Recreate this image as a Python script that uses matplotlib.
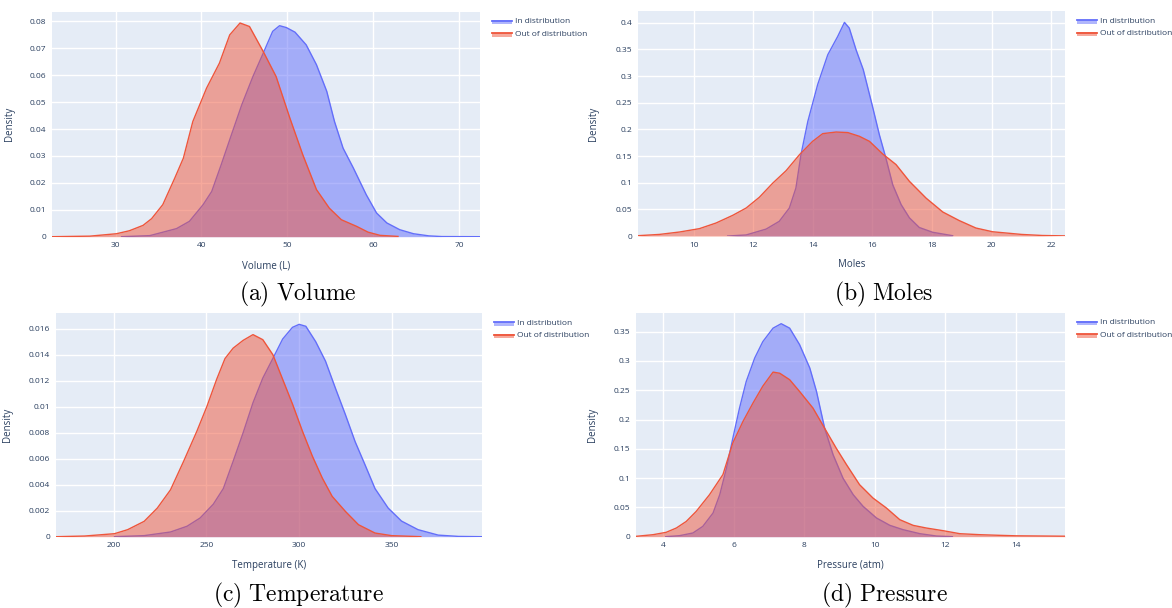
import matplotlib
matplotlib.use("Agg")
import matplotlib.pyplot as plt
from matplotlib.patches import Rectangle
from matplotlib.lines import Line2D
from matplotlib.ticker import FuncFormatter

plt.rcParams['font.family'] = ['Open Sans', 'DejaVu Sans']
plt.rcParams['mathtext.fontset'] = 'cm'

# ---------------- data ----------------
series_names = ["In distribution", "Out of distribution"]

# (a) Volume
vol_id_x = [30.7, 34.0, 37.1, 38.6, 40.2, 41.2, 42.3, 43.5, 44.7, 46.0, 47.2, 48.3, 49.1, 49.9,
            50.9, 52.2, 53.4, 54.6, 55.5, 56.5, 57.7, 59.2, 60.4, 61.6, 63.1, 64.7, 66.5, 68.0, 72.4]
vol_id_y = [0.0, 0.0004, 0.003, 0.0057, 0.0119, 0.0168, 0.0267, 0.0379, 0.049, 0.0595, 0.0682,
            0.0763, 0.0784, 0.0777, 0.076, 0.0713, 0.0639, 0.054, 0.0428, 0.0329, 0.0255, 0.0156,
            0.0088, 0.0051, 0.0026, 0.0011, 0.0003, 0.00005, 0.0]
vol_ood_x = [22.6, 27.0, 30.1, 31.6, 33.2, 34.2, 35.5, 36.9, 37.9, 39.0, 40.6, 42.1, 43.3, 44.5,
             45.6, 47.2, 48.7, 50.3, 51.8, 53.4, 54.9, 56.3, 58.1, 59.4, 60.8, 62.9]
vol_ood_y = [0.0, 0.0002, 0.0011, 0.0022, 0.0042, 0.0067, 0.0119, 0.0218, 0.0292, 0.0428, 0.0552,
             0.0645, 0.075, 0.0794, 0.0781, 0.0688, 0.0595, 0.0441, 0.0305, 0.0175, 0.0106,
             0.0063, 0.0038, 0.0017, 0.0005, 0.0001]

# (b) Moles
mol_id_x = [11.14, 11.76, 12.43, 12.87, 13.21, 13.43, 13.6, 13.83, 14.16, 14.5, 14.83, 15.06,
            15.22, 15.45, 15.69, 16.0, 16.23, 16.45, 16.68, 16.96, 17.24, 17.57, 18.02, 18.69]
mol_id_y = [0.0, 0.002, 0.013, 0.0275, 0.0525, 0.09, 0.1525, 0.215, 0.284, 0.34, 0.374, 0.4006,
            0.39, 0.349, 0.312, 0.243, 0.19, 0.146, 0.096, 0.059, 0.034, 0.016, 0.007, 0.0006]
mol_ood_x = [8.12, 8.85, 9.52, 10.19, 10.75, 11.31, 11.76, 12.2, 12.65, 13.1, 13.55, 13.99,
             14.33, 14.78, 15.17, 15.56, 15.9, 16.34, 16.79, 17.24, 17.8, 18.36, 18.91, 19.47,
             20.03, 21.0, 21.7, 22.46]
mol_ood_y = [0.0006, 0.003, 0.0075, 0.0138, 0.0244, 0.0388, 0.0525, 0.0725, 0.099, 0.1225,
             0.1525, 0.1775, 0.192, 0.195, 0.194, 0.187, 0.1775, 0.154, 0.134, 0.1025, 0.071,
             0.045, 0.029, 0.015, 0.008, 0.003, 0.001, 0.0003]

# (c) Temperature
tmp_id_x = [200.4, 216.4, 230.6, 239.5, 246.6, 253.7, 259.1, 264.4, 269.8, 275.1, 280.4, 285.8,
            291.1, 296.4, 300.0, 303.6, 308.9, 314.2, 319.6, 324.9, 330.2, 335.6, 340.9, 348.0,
            355.2, 364.1, 375.0, 386.0, 398.5]
tmp_id_y = [0.0, 0.00008, 0.00036, 0.0008, 0.00144, 0.0025, 0.0037, 0.0058, 0.008, 0.0103,
            0.0122, 0.0137, 0.0152, 0.0161, 0.01633, 0.01618, 0.015, 0.0135, 0.0114, 0.0094,
            0.0073, 0.0055, 0.0037, 0.0022, 0.0012, 0.00054, 0.00012, 0.00002, 0.0]
tmp_ood_x = [169.2, 184.3, 200.4, 207.5, 216.4, 223.5, 230.6, 237.7, 244.8, 250.2, 255.5, 260.0,
             264.4, 269.8, 275.1, 280.4, 285.8, 291.1, 296.4, 301.8, 307.1, 312.5, 317.8, 324.9,
             332.0, 340.9, 349.8, 365.6]
tmp_ood_y = [0.0, 0.00005, 0.00023, 0.00054, 0.00118, 0.0022, 0.0036, 0.0058, 0.0081, 0.01,
             0.0121, 0.0137, 0.0145, 0.0151, 0.01554, 0.01515, 0.014, 0.0121, 0.0102, 0.0081,
             0.0062, 0.0045, 0.0031, 0.00195, 0.00092, 0.00028, 0.00008, 0.0]

# (d) Pressure
prs_id_x = [4.08, 4.47, 4.85, 5.13, 5.42, 5.61, 5.8, 5.98, 6.17, 6.36, 6.6, 6.83, 7.12, 7.35,
            7.59, 7.87, 8.16, 8.35, 8.58, 8.82, 9.1, 9.39, 9.67, 10.05, 10.43, 10.8, 11.28,
            11.75, 12.2]
prs_id_y = [0.0, 0.0017, 0.0063, 0.0176, 0.0404, 0.0717, 0.117, 0.168, 0.2196, 0.265, 0.305,
            0.333, 0.356, 0.3636, 0.356, 0.328, 0.288, 0.248, 0.1855, 0.14, 0.1, 0.0717, 0.0518,
            0.0319, 0.0193, 0.012, 0.0051, 0.0011, 0.0]
prs_ood_x = [3.24, 3.72, 4.09, 4.38, 4.66, 4.94, 5.32, 5.7, 5.98, 6.27, 6.55, 6.83, 7.12, 7.31,
             7.59, 7.87, 8.25, 8.63, 8.91, 9.2, 9.57, 9.95, 10.33, 10.71, 11.09, 11.46, 11.94,
             12.41, 12.98, 13.54, 14.0, 15.39]
prs_ood_y = [0.0006, 0.0034, 0.0074, 0.0148, 0.026, 0.043, 0.0717, 0.106, 0.16, 0.197, 0.228,
             0.257, 0.281, 0.279, 0.268, 0.248, 0.2196, 0.18, 0.151, 0.123, 0.0888, 0.066, 0.049,
             0.029, 0.0193, 0.0148, 0.0102, 0.0051, 0.0034, 0.0023, 0.0015, 0.0008]

x_labels = ["Volume (L)", "Moles", "Temperature (K)", "Pressure (atm)"]
captions = ["(a)\\ Volume", "(b)\\ Moles", "(c)\\ Temperature", "(d)\\ Pressure"]
x_ticks = [[30, 40, 50, 60, 70], [10, 12, 14, 16, 18, 20, 22],
           [200, 250, 300, 350], [4, 6, 8, 10, 12, 14]]
y_ticks = [[0, 0.01, 0.02, 0.03, 0.04, 0.05, 0.06, 0.07, 0.08],
           [0, 0.05, 0.1, 0.15, 0.2, 0.25, 0.3, 0.35, 0.4],
           [0, 0.002, 0.004, 0.006, 0.008, 0.01, 0.012, 0.014, 0.016],
           [0, 0.05, 0.1, 0.15, 0.2, 0.25, 0.3, 0.35]]

panels = [
    (vol_id_x, vol_id_y, vol_ood_x, vol_ood_y),
    (mol_id_x, mol_id_y, mol_ood_x, mol_ood_y),
    (tmp_id_x, tmp_id_y, tmp_ood_x, tmp_ood_y),
    (prs_id_x, prs_id_y, prs_ood_x, prs_ood_y),
]

# ---------------- layout / style ----------------
W, H = 1172, 608
fig = plt.figure(figsize=(W / 100, H / 100), dpi=100)
fig.patch.set_facecolor("white")

positions = [
    [0.0444, 0.6107, 0.3648, 0.3696],
    [0.5441, 0.6118, 0.3646, 0.3696],
    [0.0477, 0.1173, 0.3634, 0.3674],
    [0.5426, 0.1173, 0.3661, 0.3684],
]
xlims = [(22.6, 72.4), (8.12, 22.46), (168.8, 398.5), (3.235, 15.39)]
ylims = [(0, 0.0835), (0, 0.4214), (0, 0.01718), (0, 0.3824)]
ylabel_x = [-0.0866, -0.0906, -0.0998, -0.0883]
caption_xy = [(298, 294), (884, 294), (298, 595), (884, 595)]

BG = "#E5ECF6"
TXT = "#2a3f5f"
BLUE = "#636EFA"
RED = "#EF553B"
colors = [BLUE, RED]


def fmt(v, pos):
    return "%g" % round(v, 6)


for i, (idx, idy, oodx, oody) in enumerate(panels):
    ax = fig.add_axes(positions[i])
    ax.set_facecolor(BG)
    for sp in ax.spines.values():
        sp.set_visible(False)
    ax.set_xlim(*xlims[i])
    ax.set_ylim(*ylims[i])
    ax.set_xticks(x_ticks[i])
    ax.set_yticks(y_ticks[i])
    ax.yaxis.set_major_formatter(FuncFormatter(fmt))
    ax.grid(True, color="white", linewidth=1.0)
    ax.set_axisbelow(True)
    ax.tick_params(length=0, labelsize=6, colors=TXT, pad=4)

    ax.fill_between(idx, idy, 0, color=BLUE, alpha=0.5, linewidth=0, zorder=2)
    ax.plot(idx, idy, color=BLUE, linewidth=1.0, zorder=3)
    ax.fill_between(oodx, oody, 0, color=RED, alpha=0.5, linewidth=0, zorder=4)
    ax.plot(oodx, oody, color=RED, linewidth=1.0, zorder=5)

    ax.set_xlabel(x_labels[i], fontsize=7, color=TXT)
    ax.xaxis.set_label_coords(0.5, -0.104)
    ax.set_ylabel("Density", fontsize=7, color=TXT)
    ax.yaxis.set_label_coords(ylabel_x[i], 0.5)

    # legend (plotly style) placed to the right of the axes
    pos = ax.get_position()
    right_px = pos.x1 * W
    top_px = (1 - pos.y1) * H
    for k, name in enumerate(series_names):
        yc = top_px + 9.5 + k * 12.5
        x0 = right_px + 12
        rect = Rectangle((x0 / W, 1 - (yc + 3) / H), 20 / W, 4 / H,
                         transform=fig.transFigure, facecolor=colors[k], alpha=0.5,
                         edgecolor="none")
        fig.add_artist(rect)
        ln = Line2D([x0 / W, (x0 + 20) / W], [1 - (yc - 0.5) / H] * 2,
                    transform=fig.transFigure, color=colors[k], linewidth=1.3)
        fig.add_artist(ln)
        fig.text((right_px + 35) / W, 1 - (yc + 0.5) / H, name, fontsize=6,
                 color=TXT, va="center", ha="left")

    cx, cy = caption_xy[i]
    fig.text(cx / W, 1 - cy / H, r"$\mathrm{" + captions[i] + "}$", fontsize=17,
             ha="center", va="center", color="black")

fig.savefig("out.png", dpi=100)
